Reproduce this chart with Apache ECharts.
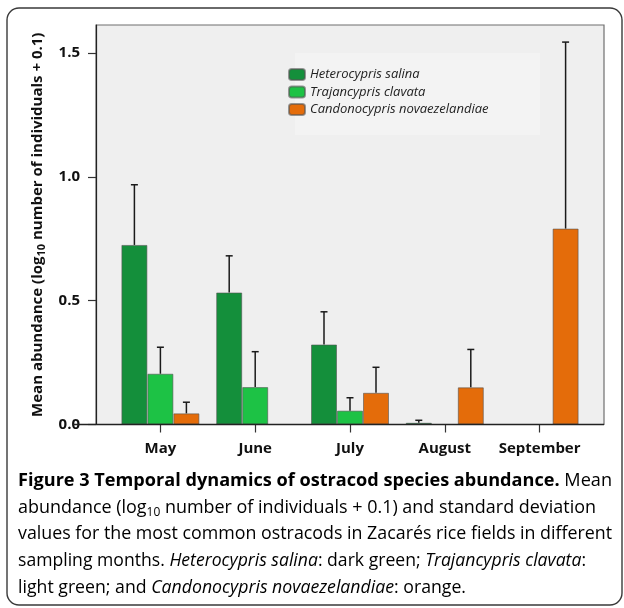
<!DOCTYPE html>
<html>
<head>
<meta charset="utf-8">
<script src="https://cdn.jsdelivr.net/npm/echarts@6/dist/echarts.min.js"></script>
<style>
  html, body { margin: 0; padding: 0; background: #fff; }
  #main { width: 624px; height: 608px; }
</style>
</head>
<body>
<div id="main"></div>
<script>
// data (log10 abundance, mean and SD)
const months = ['May', 'June', 'July', 'August', 'September']
const salinaMean = [0.725, 0.533, 0.323, 0.007, 0]
const salinaSd = [0.243, 0.148, 0.132, 0.010, 0]
const clavataMean = [0.205, 0.151, 0.056, 0, 0]
const clavataSd = [0.107, 0.143, 0.052, 0, 0]
const novaeMean = [0.045, 0, 0.128, 0.150, 0.791]
const novaeSd = [0.045, 0, 0.103, 0.153, 0.753]
const yTicks = [0, 0.5, 1.0, 1.5]
const speciesNames = ['Heterocypris salina', 'Trajancypris clavata', 'Candonocypris novaezelandiae']
const speciesColors = ['#148f3b', '#1dc245', '#e46c0a']

const barW = 26
const font = "'Open Sans', 'Noto Sans', sans-serif"

// error bar items: [category, mean, mean + sd, series index]
const errData = []
;[[salinaMean, salinaSd], [clavataMean, clavataSd], [novaeMean, novaeSd]].forEach((pair, k) => {
  pair[0].forEach((m, i) => {
    if (pair[1][i] > 0) errData.push([i, m, m + pair[1][i], k])
  })
})

// caption lines, each a list of [text, style]
const captionLines = [
  [['Figure 3 Temporal dynamics of ostracod species abundance.', 'b'], [' Mean', 'n']],
  [['abundance (log', 'n'], ['10', 's'], [' number of individuals + 0.1) and standard deviation', 'n']],
  [['values for the most common ostracods in Zacarés rice fields in different', 'n']],
  [['sampling months. ', 'n'], ['Heterocypris salina', 'i'], [': dark green; ', 'n'], ['Trajancypris clavata', 'i'], [':', 'n']],
  [['light green; and ', 'n'], ['Candonocypris novaezelandiae', 'i'], [': orange.', 'n']]
]
const captionEnds = [612, 596, 612, 586, 466]
const capFonts = {
  n: 'normal 18px ' + font,
  b: 'bold 18px ' + font,
  i: 'italic 18px ' + font,
  s: 'normal 12px ' + font
}
const ctx = document.createElement('canvas').getContext('2d')
function measure(line) {
  let w = 0
  line.forEach(seg => { ctx.font = capFonts[seg[1]]; w += ctx.measureText(seg[0]).width })
  return w
}

const captionGraphics = captionLines.map((line, li) => {
  const w = measure(line)
  return {
    type: 'text',
    x: 18,
    y: 481 + li * 26.6,
    scaleX: (captionEnds[li] - 18) / w,
    z: 10,
    style: {
      text: line.map(seg => '{' + seg[1] + '|' + seg[0] + '}').join(''),
      verticalAlign: 'middle',
      rich: {
        n: { fontFamily: font, fontSize: 18, color: '#3a3a3a', lineHeight: 22 },
        b: { fontFamily: font, fontSize: 18, fontWeight: 'bold', color: '#1a1a1a', lineHeight: 22 },
        i: { fontFamily: font, fontSize: 18, fontStyle: 'italic', color: '#3a3a3a', lineHeight: 22 },
        s: { fontFamily: font, fontSize: 12, color: '#3a3a3a', lineHeight: 12, verticalAlign: 'bottom' }
      }
    }
  }
})

function barSeries(k, values) {
  return {
    name: speciesNames[k],
    type: 'bar',
    barWidth: barW,
    barGap: '0%',
    data: values,
    z: 3,
    itemStyle: { color: speciesColors[k], borderColor: 'rgba(85,85,85,0.6)', borderWidth: 1 }
  }
}

const chart = echarts.init(document.getElementById('main'))

chart.setOption({
  backgroundColor: '#ffffff',
  animation: false,
  textStyle: { fontFamily: font },
  grid: { left: 113, right: 37, top: 25, bottom: 183.5 },
  legend: {
    orient: 'vertical',
    left: 283,
    top: 63,
    itemWidth: 16,
    itemHeight: 11,
    itemGap: 4.5,
    data: speciesNames,
    textStyle: { fontFamily: font, fontStyle: 'italic', fontSize: 13, color: '#222', lineHeight: 13 }
  },
  xAxis: {
    type: 'category',
    data: months,
    axisLine: { show: false },
    axisTick: { show: true, alignWithLabel: true, length: 8, lineStyle: { color: '#333', width: 1.2 } },
    axisLabel: { interval: 0, margin: 17, fontSize: 15, fontWeight: 'bold', color: '#111', fontFamily: font }
  },
  yAxis: {
    type: 'value',
    min: 0,
    max: 1.613,
    interval: 0.5,
    offset: 17,
    splitLine: { show: false },
    axisLine: { show: true, lineStyle: { color: '#222', width: 1.2 } },
    axisTick: { show: true, length: 8, customValues: yTicks, lineStyle: { color: '#333', width: 1.2 } },
    axisLabel: {
      margin: 16, fontSize: 15, fontWeight: 'bold', color: '#111', fontFamily: font,
      customValues: yTicks,
      formatter: v => v.toFixed(1)
    },
    name: '{a|Mean abundance (log}{s|10}{a| number of individuals + 0.1)}',
    nameLocation: 'middle',
    nameGap: 49,
    nameTextStyle: {
      rich: {
        a: { fontFamily: font, fontSize: 15, fontWeight: 'bold', color: '#111', lineHeight: 19 },
        s: { fontFamily: font, fontSize: 11, fontWeight: 'bold', color: '#111', lineHeight: 11, verticalAlign: 'bottom' }
      }
    }
  },
  graphic: [
    // plot panel
    { type: 'rect', shape: { x: 96, y: 25, width: 508, height: 399.5 }, z: -10,
      style: { fill: '#efefef', stroke: '#6f6f6f', lineWidth: 1.2 } },
    // lighter legend box
    { type: 'rect', shape: { x: 295, y: 53, width: 245, height: 82 }, z: -9,
      style: { fill: '#f3f3f3' } },
    // extended baseline
    { type: 'line', shape: { x1: 73, y1: 424.5, x2: 604, y2: 424.5 }, z: 5,
      style: { stroke: '#222', lineWidth: 1.3 } },
    // outer frame
    { type: 'rect', shape: { x: 7, y: 8, width: 615, height: 597, r: 12 }, z: -20,
      style: { fill: 'none', stroke: '#3a3a3a', lineWidth: 1.4 } }
  ].concat(captionGraphics),
  series: [
    barSeries(0, salinaMean),
    barSeries(1, clavataMean),
    barSeries(2, novaeMean),
    {
      type: 'custom',
      data: errData,
      z: 6,
      silent: true,
      renderItem(params, api) {
        const base = api.coord([api.value(0), api.value(1)])
        const tip = api.coord([api.value(0), api.value(2)])
        const x = base[0] + (api.value(3) - 1) * barW
        const st = { stroke: '#1a1a1a', lineWidth: 1.5 }
        return {
          type: 'group',
          children: [
            { type: 'line', shape: { x1: x, y1: base[1], x2: x, y2: tip[1] }, style: st },
            { type: 'line', shape: { x1: x - 3.5, y1: tip[1], x2: x + 3.5, y2: tip[1] }, style: st }
          ]
        }
      }
    }
  ]
})
</script>
</body>
</html>
